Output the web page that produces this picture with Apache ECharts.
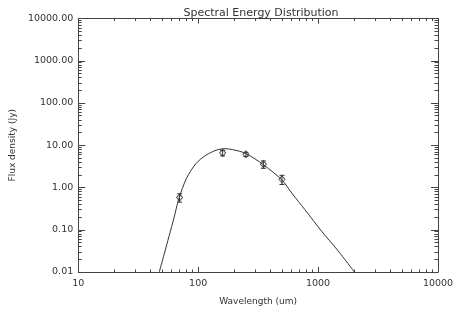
<!DOCTYPE html>
<html>
<head>
<meta charset="utf-8">
<script src="https://cdn.jsdelivr.net/npm/echarts@6/dist/echarts.min.js"></script>
<style>
html,body{margin:0;padding:0;background:#fff;}
#chart{width:463px;height:311px;}
</style>
</head>
<body>
<div id="chart"></div>
<script>
// Observed data points
const wavelength = [70, 160, 250, 350, 500];
const flux = [0.58, 6.6, 6.1, 3.55, 1.56];
const fluxErr = [0.13, 1.0, 0.7, 0.7, 0.38];

// Model curve
const modelWave = [47.4, 52, 57.3, 63, 69, 80, 96, 116, 141, 165, 193, 249, 353, 499, 603, 776, 1067, 1465, 2009];
const modelFlux = [0.01, 0.026, 0.072, 0.195, 0.54, 1.65, 3.7, 5.8, 7.6, 8.3, 7.9, 6.4, 3.4, 1.51, 0.74, 0.30, 0.093, 0.032, 0.01];

// Tick values
const xMajor = [10, 100, 1000, 10000];
const xMinor = [20,30,40,50,60,70,80,90,200,300,400,500,600,700,800,900,2000,3000,4000,5000,6000,7000,8000,9000];
const yMajor = [0.01, 0.1, 1, 10, 100, 1000, 10000];
const yMinor = [];
[0.01, 0.1, 1, 10, 100, 1000].forEach(d => { for (let k = 2; k <= 9; k++) yMinor.push(+(d * k).toPrecision(3)); });

const AX = '#444';
const TXT = '#333';
const FONT = 'DejaVu Sans';

function xAx(pos, minor, labels) {
  return {
    type: 'log', logBase: 10, min: 10, max: 10000, position: pos,
    axisLine: { show: !minor, onZero: false, lineStyle: { color: AX, width: 1 } },
    axisTick: { show: true, inside: true, length: minor ? 2.5 : 5, customValues: minor ? xMinor : xMajor, lineStyle: { color: AX, width: 1 } },
    axisLabel: labels ? { show: true, customValues: xMajor, color: TXT, fontFamily: FONT, fontSize: 9.5, margin: 7,
      formatter: v => String(Math.round(v)) } : { show: false },
    splitLine: { show: false },
    name: labels ? 'Wavelength (um)' : '', nameLocation: 'middle', nameGap: 25,
    nameTextStyle: { color: TXT, fontFamily: FONT, fontSize: 9 }
  };
}
function yAx(pos, minor, labels) {
  return {
    type: 'log', logBase: 10, min: 0.01, max: 10000, position: pos,
    axisLine: { show: !minor, onZero: false, lineStyle: { color: AX, width: 1 } },
    axisTick: { show: true, inside: true, length: minor ? 3.5 : 7, customValues: minor ? yMinor : yMajor, lineStyle: { color: AX, width: 1 } },
    axisLabel: labels ? { show: true, customValues: yMajor, color: TXT, fontFamily: FONT, fontSize: 9.5, margin: 5,
      formatter: v => Number(v).toFixed(2) } : { show: false },
    splitLine: { show: false },
    name: labels ? 'Flux density (Jy)' : '', nameLocation: 'middle', nameGap: 52, nameRotate: 90,
    nameTextStyle: { color: TXT, fontFamily: FONT, fontSize: 9 }
  };
}

const chart = echarts.init(document.getElementById('chart'), null, { renderer: 'canvas' });
chart.setOption({
  animation: false,
  backgroundColor: '#fff',
  title: {
    text: 'Spectral Energy Distribution', left: 256, top: 3, textAlign: 'center',
    textStyle: { color: TXT, fontFamily: FONT, fontSize: 11, fontWeight: 'normal' }
  },
  grid: { left: 74, right: 25, top: 18.5, bottom: 36.3, containLabel: false },
  xAxis: [xAx('bottom', false, true), xAx('bottom', true, false), xAx('top', false, false), xAx('top', true, false)],
  yAxis: [yAx('left', false, true), yAx('left', true, false), yAx('right', false, false), yAx('right', true, false)],
  series: [
    {
      type: 'line', xAxisIndex: 0, yAxisIndex: 0,
      data: modelWave.map((w, i) => [w, modelFlux[i]]),
      smooth: 0.3, showSymbol: false, symbol: 'none', clip: true,
      lineStyle: { color: '#333', width: 1 }
    },
    {
      type: 'custom', xAxisIndex: 0, yAxisIndex: 0,
      data: wavelength.map((w, i) => [w, flux[i] - fluxErr[i], flux[i] + fluxErr[i]]),
      encode: { x: 0, y: [1, 2] },
      renderItem: function (params, api) {
        const lo = api.coord([api.value(0), api.value(1)]);
        const hi = api.coord([api.value(0), api.value(2)]);
        const hw = 2.5;
        const st = { stroke: '#333', lineWidth: 1 };
        return {
          type: 'group',
          children: [
            { type: 'line', shape: { x1: lo[0], y1: lo[1], x2: hi[0], y2: hi[1] }, style: st },
            { type: 'line', shape: { x1: lo[0] - hw, y1: lo[1], x2: lo[0] + hw, y2: lo[1] }, style: st },
            { type: 'line', shape: { x1: hi[0] - hw, y1: hi[1], x2: hi[0] + hw, y2: hi[1] }, style: st }
          ]
        };
      }
    },
    {
      type: 'scatter', xAxisIndex: 0, yAxisIndex: 0,
      data: wavelength.map((w, i) => [w, flux[i]]),
      symbol: 'diamond', symbolSize: [6, 7],
      itemStyle: { color: 'rgba(255,255,255,0)', borderColor: '#333', borderWidth: 1 }
    }
  ]
});
</script>
</body>
</html>
